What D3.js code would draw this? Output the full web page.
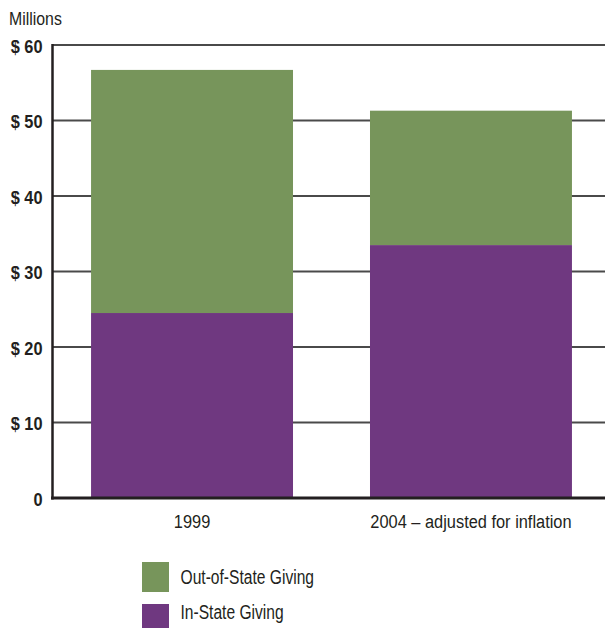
<!DOCTYPE html>
<html><head><meta charset="utf-8">
<script src="https://cdn.jsdelivr.net/npm/d3@7"></script>
<style>
body{margin:0;background:#fff;}
svg text{font-family:"Liberation Sans",Arial,sans-serif;fill:#231f20;}
</style></head>
<body>
<svg id="chart" width="605" height="628"></svg>
<script>
const categories = ["1999", "2004 \u2013 adjusted for inflation"];
const inState = [24.5, 33.5];
const outOfState = [32.2, 17.8];
const yTicks = [0, 10, 20, 30, 40, 50, 60];
const yTickLabels = ["0", "$ 10", "$ 20", "$ 30", "$ 40", "$ 50", "$ 60"];
const seriesNames = ["Out-of-State Giving", "In-State Giving"];
const seriesColors = ["#77955b", "#6f3880"];

const svg = d3.select("#chart");
const y = d3.scaleLinear().domain([0, 60]).range([498, 45]);
const x = d3.scaleBand().domain(categories).range([52, 611]).paddingInner(0.276).paddingOuter(0.14);

// condensed look: compress glyphs horizontally
function condense(sel, f) {
  sel.each(function () {
    const w = this.getComputedTextLength();
    d3.select(this).attr("textLength", w * f).attr("lengthAdjust", "spacingAndGlyphs");
  });
}

// gridlines
svg.append("g").selectAll("line").data(yTicks.filter(d => d > 0)).join("line")
  .attr("x1", 52).attr("x2", 605)
  .attr("y1", d => y(d)).attr("y2", d => y(d))
  .attr("stroke", "#4a4a4a").attr("stroke-width", 1.8);

// stacked bars
const data = categories.map((c, i) => ({cat: c, inS: inState[i], outS: outOfState[i]}));
const g = svg.append("g");
g.selectAll(".in").data(data).join("rect").attr("class", "in")
  .attr("x", d => x(d.cat)).attr("width", x.bandwidth())
  .attr("y", d => y(d.inS)).attr("height", d => y(0) - y(d.inS))
  .attr("fill", seriesColors[1]);
g.selectAll(".out").data(data).join("rect").attr("class", "out")
  .attr("x", d => x(d.cat)).attr("width", x.bandwidth())
  .attr("y", d => y(d.inS + d.outS)).attr("height", d => y(d.inS) - y(d.inS + d.outS))
  .attr("fill", seriesColors[0]);

// axes lines
svg.append("line").attr("x1", 52.5).attr("x2", 52.5).attr("y1", 44).attr("y2", 499.5)
  .attr("stroke", "#231f20").attr("stroke-width", 2.5);
svg.append("line").attr("x1", 51).attr("x2", 605).attr("y1", 498).attr("y2", 498)
  .attr("stroke", "#231f20").attr("stroke-width", 3);

// y tick labels
svg.append("g").selectAll("text").data(yTicks).join("text")
  .attr("x", 42.5).attr("y", d => y(d) + 7.5)
  .attr("text-anchor", "end").attr("font-size", 19).attr("font-weight", "bold")
  .text((d, i) => yTickLabels[i])
  .call(condense, 0.86);

svg.append("text").attr("x", 9).attr("y", 25).attr("font-size", 18).text("Millions")
  .call(condense, 0.88);

// x labels
svg.append("g").selectAll("text").data(categories).join("text")
  .attr("x", d => x(d) + x.bandwidth() / 2).attr("y", 528)
  .attr("text-anchor", "middle").attr("font-size", 18).text(d => d)
  .call(condense, 0.91);

// legend
const leg = svg.append("g");
seriesNames.forEach((n, i) => {
  leg.append("rect").attr("x", 142).attr("y", 562 + i * 42).attr("width", 27).attr("height", 30)
    .attr("fill", seriesColors[i]);
  leg.append("text").attr("x", 180.5).attr("y", 584 + i * 35).attr("font-size", 19.5).text(n)
    .call(condense, 0.8);
});
</script>
</body></html>
